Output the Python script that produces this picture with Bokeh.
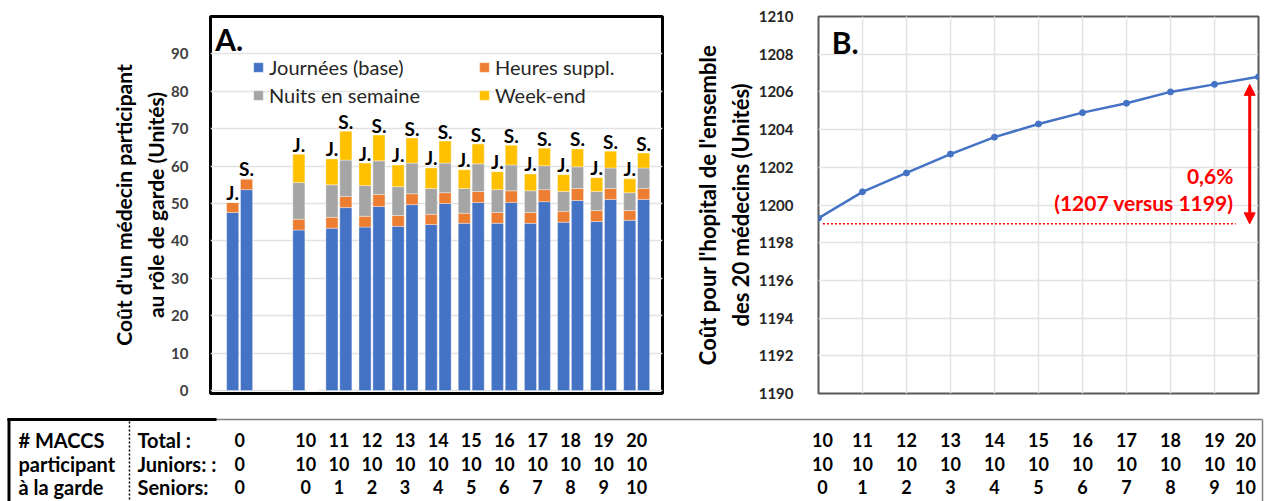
from bokeh.plotting import figure
from bokeh.models import (ColumnDataSource, Range1d, FixedTicker, Legend, LegendItem,
                          Label, Arrow, NormalHead, Grid)
from bokeh.layouts import column, row
from bokeh.core.properties import value
from bokeh.embed import file_html
from bokeh.resources import INLINE

FONT = "Lato"

# ---------------- data ----------------
groups = [0, 10, 11, 12, 13, 14, 15, 16, 17, 18, 19, 20]          # total MACCS
juniors = [0, 10, 10, 10, 10, 10, 10, 10, 10, 10, 10, 10]
seniors = [0, 0, 1, 2, 3, 4, 5, 6, 7, 8, 9, 10]

series_names = ["Journées (base)", "Heures suppl.", "Nuits en semaine", "Week-end"]
series_colors = ["#4472C4", "#ED7D31", "#A5A5A5", "#FFC000"]

j_base = [47.6, 42.9, 43.4, 43.7, 43.9, 44.4, 44.7, 44.7, 44.7, 45.0, 45.2, 45.5]
j_hs = [2.7, 2.9, 2.9, 2.9, 2.9, 2.7, 2.7, 2.9, 2.9, 2.9, 2.9, 2.6]
j_nuits = [0.0, 9.8, 8.7, 8.2, 7.7, 6.9, 6.6, 6.1, 5.8, 5.3, 5.1, 4.8]
j_we = [0.0, 7.6, 6.9, 6.0, 5.8, 5.5, 5.0, 4.8, 4.5, 4.5, 3.7, 3.7]

s_base = [53.7, 0.0, 48.9, 49.2, 49.7, 50.0, 50.3, 50.3, 50.5, 50.8, 51.1, 51.1]
s_hs = [2.9, 0.0, 3.0, 3.2, 2.9, 2.9, 2.9, 3.1, 3.2, 3.2, 2.9, 2.9]
s_nuits = [0.0, 0.0, 9.7, 9.0, 8.2, 7.9, 7.4, 6.9, 6.4, 5.8, 5.5, 5.5]
s_we = [0.0, 0.0, 7.7, 6.9, 6.7, 5.9, 5.3, 5.3, 4.7, 4.8, 4.5, 4.0]

b_total = [10, 11, 12, 13, 14, 15, 16, 17, 18, 19, 20]
b_juniors = [10, 10, 10, 10, 10, 10, 10, 10, 10, 10, 10]
b_seniors = [0, 1, 2, 3, 4, 5, 6, 7, 8, 9, 10]
b_cost = [1199.3, 1200.7, 1201.7, 1202.7, 1203.6, 1204.3, 1204.9, 1205.4, 1206.0, 1206.4, 1206.8]
cost_ref, cost_final = 1199, 1207
pct_text = "0,6%"

a_ticks = list(range(0, 100, 10))
b_ticks = list(range(1190, 1211, 2))

# ---------------- layout constants ----------------
OFF = 0.21
BW = 0.365
slots = [0] + list(range(2, 2 + len(groups) - 1))
XA0, XA1 = -0.88, 12.78
A_FIG_W, A_LEFT, A_RIGHT = 670, 210, 8
A_W = A_FIG_W - A_LEFT - A_RIGHT
B_FIG_W, B_LEFT, B_RIGHT = 596, 148, 8
B_W = B_FIG_W - B_LEFT - B_RIGHT
TOP_H = 416


def style_common(p):
    p.background_fill_color = "white"
    p.border_fill_color = "white"


# ---------------- Panel A ----------------
pA = figure(width=A_FIG_W, height=TOP_H, x_range=Range1d(XA0, XA1), y_range=Range1d(-0.8, 100),
            x_axis_location=None, toolbar_location=None, output_backend="svg",
            min_border_left=A_LEFT, min_border_right=A_RIGHT, min_border_top=14, min_border_bottom=21)
style_common(pA)
pA.outline_line_color = "black"
pA.outline_line_width = 3
pA.xgrid.visible = False
pA.ygrid.grid_line_color = "#e3e3e3"
pA.ygrid.grid_line_width = 1.5
pA.yaxis.ticker = FixedTicker(ticks=a_ticks)
pA.yaxis.axis_line_color = None
pA.yaxis.major_tick_line_color = None
pA.yaxis.minor_tick_line_color = None
pA.yaxis.major_tick_out = 0
pA.yaxis.major_tick_in = 0
pA.yaxis.major_label_standoff = 22
pA.yaxis.major_label_text_font = FONT
pA.yaxis.major_label_text_font_style = "bold"
pA.yaxis.major_label_text_font_size = "15px"
pA.yaxis.major_label_text_color = "#404040"
pA.yaxis.axis_label = "Coût d'un médecin participant\nau rôle de garde (Unités)"
pA.yaxis.axis_label_text_font = FONT
pA.yaxis.axis_label_text_font_style = "bold"
pA.yaxis.axis_label_text_font_size = "21px"
pA.yaxis.axis_label_text_color = "black"
pA.yaxis.axis_label_text_line_height = 1.3
pA.yaxis.axis_label_standoff = 0

srcJ = ColumnDataSource(dict(x=[s - OFF for s in slots], base=j_base, hs=j_hs, nuits=j_nuits, we=j_we))
srcS = ColumnDataSource(dict(x=[s + OFF for s in slots], base=s_base, hs=s_hs, nuits=s_nuits, we=s_we))
keys = ["base", "hs", "nuits", "we"]
rJ = pA.vbar_stack(keys, x="x", width=BW, color=series_colors, source=srcJ,
                   line_color="white", line_width=0.6, line_alpha=0.6)
rS = pA.vbar_stack(keys, x="x", width=BW, color=series_colors, source=srcS,
                   line_color="white", line_width=0.6, line_alpha=0.6)

# J. / S. labels
lab_x, lab_y, lab_t = [], [], []
for i, s in enumerate(slots):
    tj = j_base[i] + j_hs[i] + j_nuits[i] + j_we[i]
    ts = s_base[i] + s_hs[i] + s_nuits[i] + s_we[i]
    if tj > 0:
        lab_x.append(s - OFF); lab_y.append(tj); lab_t.append("J.")
    if ts > 0:
        lab_x.append(s + OFF); lab_y.append(ts); lab_t.append("S.")
pA.text(x=lab_x, y=lab_y, text=lab_t, text_align="center", text_baseline="alphabetic",
        y_offset=-10, text_font=value(FONT), text_font_style="bold", text_font_size="19px",
        text_color="black")

pA.add_layout(Label(x=-0.74, y=94.0, text="A.", text_align="left", text_baseline="middle",
                    text_font=FONT, text_font_style="bold", text_font_size="30px",
                    text_color="black"))

legend = Legend(items=[LegendItem(label=n, renderers=[r]) for n, r in zip(series_names, rJ)],
                orientation="horizontal", ncols=2, location=(42, 286),
                padding=0, margin=0, spacing=4, glyph_width=12, glyph_height=12,
                label_height=24, label_width=205, label_standoff=5,
                label_text_font=FONT, label_text_font_size="20px", label_text_color="#262626",
                border_line_color=None, background_fill_alpha=0)
pA.add_layout(legend, "center")

# ---------------- Panel B ----------------
pB = figure(width=B_FIG_W, height=TOP_H, x_range=Range1d(10, 20), y_range=Range1d(1190, 1210),
            x_axis_location=None, toolbar_location=None, output_backend="svg",
            min_border_left=B_LEFT, min_border_right=B_RIGHT, min_border_top=16, min_border_bottom=23)
style_common(pB)
pB.outline_line_color = "#595959"
pB.outline_line_width = 2
pB.add_layout(Grid(dimension=0, ticker=FixedTicker(ticks=b_total),
                   grid_line_color="#e3e3e3", grid_line_width=1.5))
pB.ygrid.grid_line_color = "#e3e3e3"
pB.ygrid.grid_line_width = 1.5
pB.yaxis.ticker = FixedTicker(ticks=b_ticks)
pB.yaxis.axis_line_color = None
pB.yaxis.major_tick_line_color = None
pB.yaxis.minor_tick_line_color = None
pB.yaxis.major_tick_out = 0
pB.yaxis.major_tick_in = 0
pB.yaxis.major_label_standoff = 25
pB.yaxis.major_label_text_font = FONT
pB.yaxis.major_label_text_font_style = "bold"
pB.yaxis.major_label_text_font_size = "15px"
pB.yaxis.major_label_text_color = "#262626"
pB.yaxis.axis_label = "Coût pour l'hopital de l'ensemble\ndes 20 médecins (Unités)"
pB.yaxis.axis_label_text_font = FONT
pB.yaxis.axis_label_text_font_style = "bold"
pB.yaxis.axis_label_text_font_size = "22px"
pB.yaxis.axis_label_text_color = "black"
pB.yaxis.axis_label_text_line_height = 1.2
pB.yaxis.axis_label_standoff = 2

pB.line(b_total, b_cost, line_color="#4472C4", line_width=2.5)
pB.scatter(b_total, b_cost, size=6, fill_color="#4472C4", line_color="#4472C4")

pB.line([b_total[0] + 0.1, 19.48], [cost_ref, cost_ref], line_color="red",
        line_width=1.5, line_dash="2 2")
pB.add_layout(Arrow(start=NormalHead(size=11, fill_color="red", line_color="red"),
                    end=NormalHead(size=11, fill_color="red", line_color="red"),
                    x_start=19.8, y_start=cost_ref, x_end=19.8, y_end=b_cost[-1] - 0.4,
                    line_color="red", line_width=3))
pB.add_layout(Label(x=19.43, y=1201.57, text=pct_text, text_align="right", text_baseline="middle",
                    text_font=FONT, text_font_style="bold", text_font_size="21px", text_color="red"))
pB.add_layout(Label(x=19.43, y=1200.13, text=f"({cost_final} versus {cost_ref})",
                    text_align="right", text_baseline="middle",
                    text_font=FONT, text_font_style="bold", text_font_size="21px", text_color="red"))
pB.add_layout(Label(x=10.3, y=1208.67, text="B.", text_align="left", text_baseline="middle",
                    text_font=FONT, text_font_style="bold", text_font_size="30px",
                    text_color="black"))

# ---------------- Table ----------------
TW = A_FIG_W + B_FIG_W
TH = 85
pT = figure(width=TW, height=TH, x_range=Range1d(0, TW), y_range=Range1d(TH, 0),
            x_axis_location=None, y_axis_location=None, toolbar_location=None,
            output_backend="svg", min_border=0)
style_common(pT)
pT.outline_line_color = None
pT.xgrid.visible = False
pT.ygrid.visible = False

row_y = [23, 47, 70]
# lines
pT.line([7, 1262], [3, 3], line_color="#7f7f7f", line_width=1.5)
pT.line([7, 216], [3, 3], line_color="black", line_width=3)
pT.line([8.5, 8.5], [2, TH], line_color="black", line_width=3)
pT.line([129, 129], [5, TH], line_color="black", line_width=1.5, line_dash="2 2")
pT.line([1262, 1262], [3, TH], line_color="#7f7f7f", line_width=1.5)

lfont = dict(text_font=value(FONT), text_font_style="bold", text_font_size="20px",
             text_color="black", text_baseline="middle")
nfont = dict(text_font=value(FONT), text_font_style="bold", text_font_size="18px",
             text_color="black", text_baseline="middle")
pT.text(x=[18, 18, 18], y=row_y, text=["# MACCS", "participant", "à la garde"],
        text_align="left", **lfont)
pT.text(x=[137, 137, 137], y=row_y, text=["Total :", "Juniors: :", "Seniors:"],
        text_align="left", **lfont)

a_px = [A_LEFT + (s - XA0) / (XA1 - XA0) * A_W for s in slots]
for vals, yy in zip([groups, juniors, seniors], row_y):
    pT.text(x=a_px, y=[yy] * len(vals), text=[str(v) for v in vals], text_align="center", **nfont)

b_px = [A_FIG_W + B_LEFT + (n - b_total[0]) / (b_total[-1] - b_total[0]) * B_W for n in b_total]
b_px[0] += 4
b_px[-1] -= 13
for vals, yy in zip([b_total, b_juniors, b_seniors], row_y):
    pT.text(x=b_px, y=[yy] * len(vals), text=[str(v) for v in vals], text_align="center", **nfont)

layout = column(row(pA, pB), pT)
open("out.html", "w").write(file_html(layout, INLINE))
